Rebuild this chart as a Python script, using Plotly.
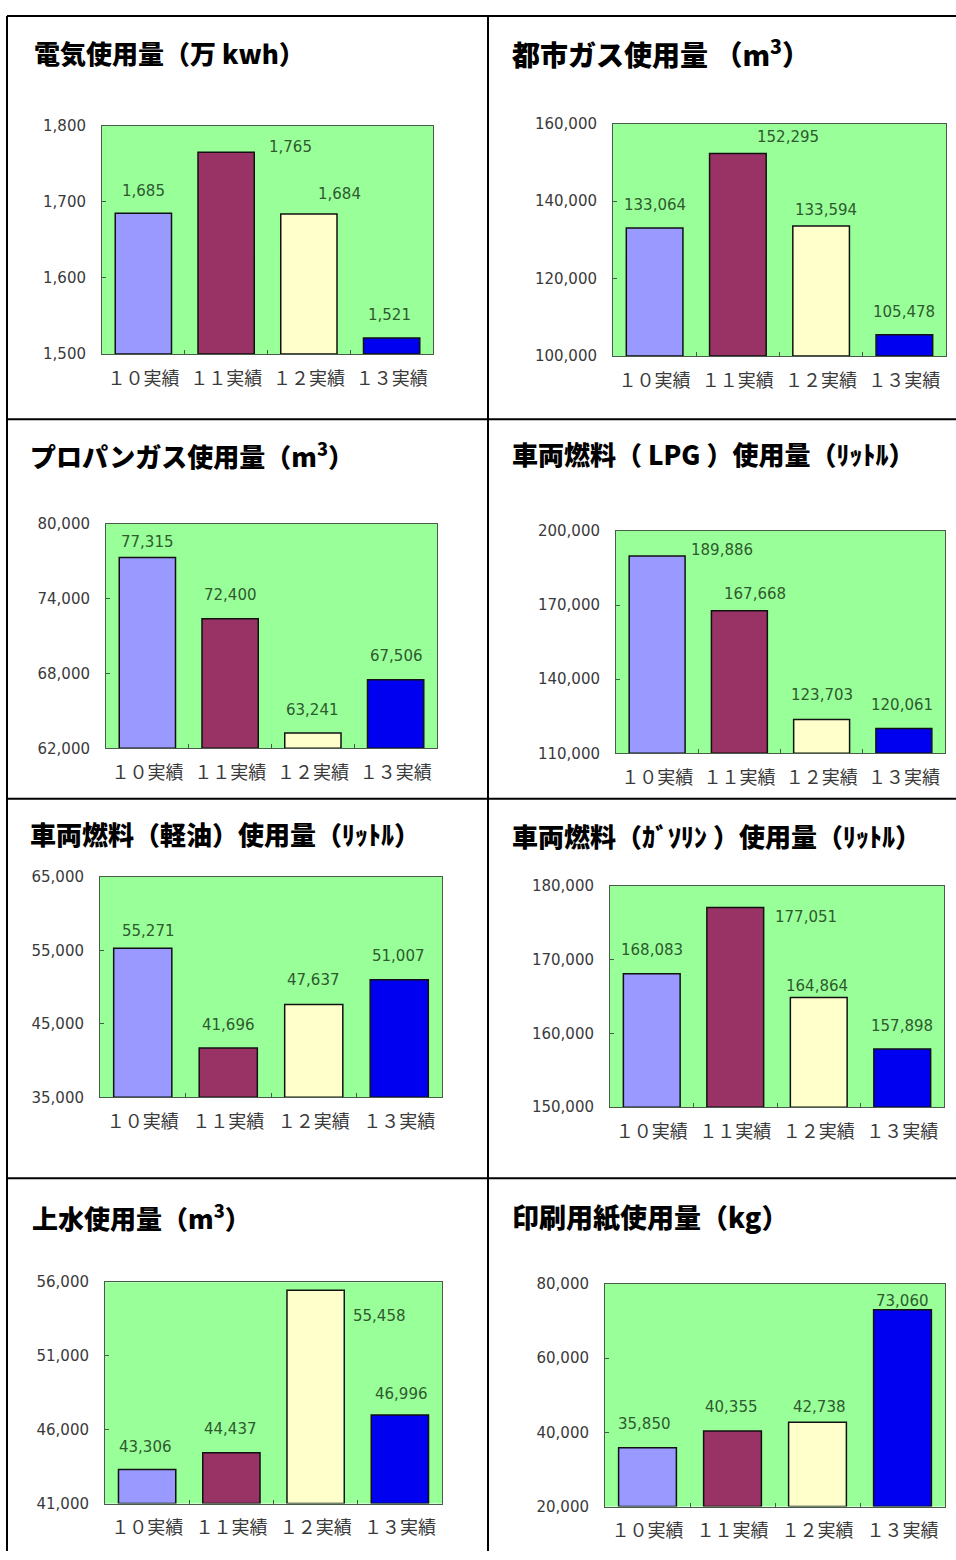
import plotly.graph_objects as go

W, H = 956, 1560

categories = ["１０実績", "１１実績", "１２実績", "１３実績"]

electricity = [1685, 1765, 1684, 1521]
city_gas = [133064, 152295, 133594, 105478]
propane = [77315, 72400, 63241, 67506]
lpg_fuel = [189886, 167668, 123703, 120061]
diesel_fuel = [55271, 41696, 47637, 51007]
gasoline_fuel = [168083, 177051, 164864, 157898]
water = [43306, 44437, 55458, 46996]
paper = [35850, 40355, 42738, 73060]

titles = [
    "電気使用量（万 kwh）",
    "都市ガス使用量 （m<sup>3</sup>）",
    "プロパンガス使用量（m<sup>3</sup>）",
    "車両燃料（ LPG ）使用量（ﾘｯﾄﾙ）",
    "車両燃料（軽油）使用量（ﾘｯﾄﾙ）",
    "車両燃料（ｶﾞｿﾘﾝ ）使用量（ﾘｯﾄﾙ）",
    "上水使用量（m<sup>3</sup>）",
    "印刷用紙使用量（kg）",
]

axis_ranges = [
    (1500, 1800, 100),
    (100000, 160000, 20000),
    (62000, 80000, 6000),
    (110000, 200000, 30000),
    (35000, 65000, 10000),
    (150000, 180000, 10000),
    (41000, 56000, 5000),
    (20000, 80000, 20000),
]

series = [electricity, city_gas, propane, lpg_fuel, diesel_fuel,
          gasoline_fuel, water, paper]

# ---- layout / style (pixels) ----
plot_boxes = [
    (102, 118, 433, 349),
    (613, 116, 946, 351),
    (106, 521, 437, 748),
    (616, 528, 945, 753),
    (100, 878, 442, 1101),
    (610, 887, 944, 1111),
    (105, 1288, 442, 1512),
    (605, 1290, 945, 1515),
]
title_pos = [
    (32, 44), (510, 44), (28, 451), (510, 450),
    (28, 834), (510, 836), (30, 1222), (510, 1222),
]
title_sizes = [26, 28, 26, 26, 26, 26, 26, 27]
label_offsets = [
    [(0, 22), (64, 5), (31, 20), (-2, 23)],
    [(0, 23), (50, 16), (5, 16), (0, 23)],
    [(0, 15), (0, 24), (0, 23), (1, 24)],
    [(65, 6), (16, 17), (0, 24), (-2, 23)],
    [(6, 17), (0, 23), (0, 24), (-1, 24)],
    [(0, 24), (71, -9), (-2, 11), (0, 23)],
    [(-2, 23), (-1, 24), (64, -26), (2, 21)],
    [(-3, 24), (-1, 24), (2, 15), (0, 9)],
]
bar_colors = ["#9999FF", "#993366", "#FFFFCC", "#0000F0"]
plot_bg = "#99FF99"

fig = go.Figure()
annotations = []
shapes = []
layout_axes = {}

for i, vals in enumerate(series):
    n = i + 1
    xa = "x" if n == 1 else f"x{n}"
    ya = "y" if n == 1 else f"y{n}"
    l, t, r, b = plot_boxes[i]
    lo, hi, step = axis_ranges[i]
    fig.add_trace(go.Bar(
        x=categories, y=[v - lo for v in vals], base=lo,
        xaxis=xa, yaxis=ya,
        marker=dict(color=bar_colors, line=dict(color="#111111", width=1.5)),
        width=0.68, showlegend=False, hoverinfo="skip",
    ))
    xkey = "xaxis" if n == 1 else f"xaxis{n}"
    ykey = "yaxis" if n == 1 else f"yaxis{n}"
    layout_axes[xkey] = dict(
        domain=[l / W, r / W], anchor=ya, type="category",
        showline=True, mirror=True, linecolor="#4a5a4a", linewidth=1,
        ticks="inside", ticklen=4, tickcolor="#4a5a4a", tickson="boundaries",
        showgrid=False, zeroline=False,
        tickfont=dict(family="Noto Sans CJK JP", size=18, color="#3a3a3a"),
        ticklabelstandoff=8, fixedrange=True,
    )
    layout_axes[ykey] = dict(
        domain=[1 - b / H, 1 - t / H], anchor=xa,
        range=[lo, hi], tick0=lo, dtick=step, tickformat=",d",
        showline=True, mirror=True, linecolor="#4a5a4a", linewidth=1,
        ticks="inside", ticklen=4, tickcolor="#4a5a4a",
        showgrid=False, zeroline=False,
        tickfont=dict(family="DejaVu Sans", size=15, color="#3a3a3a"),
        ticklabelstandoff=12, fixedrange=True,
    )
    shapes.append(dict(type="rect", xref="paper", yref="paper",
                       x0=l / W, x1=r / W, y0=1 - b / H, y1=1 - t / H,
                       fillcolor=plot_bg, line=dict(width=0), layer="below"))
    for j, v in enumerate(vals):
        dx, dy = label_offsets[i][j]
        annotations.append(dict(
            x=categories[j], y=v, xref=xa, yref=ya,
            text=f"{v:,}", showarrow=False,
            xanchor="center", yanchor="middle", xshift=dx, yshift=dy,
            font=dict(family="DejaVu Sans", size=15, color="#2e5a2e"),
        ))
    tx, ty = title_pos[i]
    annotations.append(dict(
        x=tx / W, y=1 - ty / H, xref="paper", yref="paper",
        text=titles[i], showarrow=False,
        xanchor="left", yanchor="middle",
        font=dict(family="Noto Sans CJK JP", size=title_sizes[i],
                  color="#000000", weight=900),
    ))

# panel frame lines
def hline(y, x0=7, x1=956):
    return dict(type="line", xref="paper", yref="paper",
                x0=x0 / W, x1=x1 / W, y0=1 - y / H, y1=1 - y / H,
                line=dict(color="#000000", width=2))

def vline(x, y0=7, y1=1560):
    return dict(type="line", xref="paper", yref="paper",
                x0=x / W, x1=x / W, y0=1 - y0 / H, y1=1 - y1 / H,
                line=dict(color="#000000", width=2))

shapes += [hline(7), hline(415), hline(799), hline(1183),
           vline(7), vline(488)]

fig.update_layout(
    width=W, height=H,
    margin=dict(l=0, r=0, t=0, b=0),
    paper_bgcolor="#FFFFFF", plot_bgcolor="rgba(0,0,0,0)",
    bargap=0.32, annotations=annotations, shapes=shapes,
    **layout_axes,
)

post = (
    "var gd=document.getElementById('{plot_id}');"
    "gd.style.position='fixed';gd.style.top='0px';gd.style.left='0px';"
    "document.documentElement.style.margin='0';"
    "document.documentElement.style.overflow='hidden';"
    "document.body.style.margin='0';document.body.style.padding='0';"
    "document.body.style.overflow='hidden';"
    "document.body.style.height='1560px';"
)
fig.write_html("out.html", post_script=post,
               config={"displayModeBar": False, "staticPlot": True})
